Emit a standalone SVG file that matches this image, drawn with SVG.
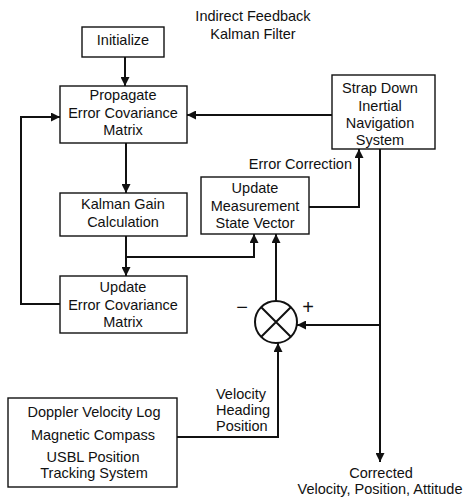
<svg xmlns="http://www.w3.org/2000/svg" width="466" height="497" viewBox="0 0 466 497">
<defs>
<style>
.box{fill:#fff;stroke:#111;stroke-width:1.4}
.t{font-family:"Liberation Sans",Arial,sans-serif;font-size:14.5px;fill:#111;text-anchor:middle}
.l{text-anchor:start}
.r{text-anchor:end}
.s{font-size:20px}
.c{fill:none;stroke:#111;stroke-width:2}
</style>
<marker id="ah" viewBox="0 0 10 10" refX="10" refY="5" markerWidth="5" markerHeight="4.5" orient="auto" markerUnits="strokeWidth">
<path d="M0,0 L10,5 L0,10 z" fill="#111"/>
</marker>
</defs>
<rect width="466" height="497" fill="#fff"/>
<text class="t" x="253" y="21">Indirect Feedback</text>
<text class="t" x="253" y="39">Kalman Filter</text>
<g id="connectors">
<path class="c" d="M125,57 V86" marker-end="url(#ah)"/>
<path class="c" d="M126,143 V193" marker-end="url(#ah)"/>
<path class="c" d="M126,236 V276" marker-end="url(#ah)"/>
<path class="c" d="M126,257 H254 V234" marker-end="url(#ah)"/>
<path class="c" d="M60,304 H21 V117 H60" marker-end="url(#ah)"/>
<path class="c" d="M332,115 H187" marker-end="url(#ah)"/>
<path class="c" d="M309,207 H359 V149" marker-end="url(#ah)"/>
<path class="c" d="M380,149 V462" marker-end="url(#ah)"/>
<path class="c" d="M380,325 H297" marker-end="url(#ah)"/>
<path class="c" d="M276,301 V234" marker-end="url(#ah)"/>
<path class="c" d="M177,437 H278 V343" marker-end="url(#ah)"/>
</g>
<g id="initialize">
<rect class="box" x="82" y="27" width="82" height="30"/>
<text class="t" x="123" y="45">Initialize</text>
</g>
<g id="propagate">
<rect class="box" x="60" y="86" width="127" height="57"/>
<text class="t" x="123" y="100">Propagate</text>
<text class="t" x="123" y="118">Error Covariance</text>
<text class="t" x="123" y="135">Matrix</text>
</g>
<g id="kalman-gain">
<rect class="box" x="60" y="193" width="127" height="43"/>
<text class="t" x="123" y="209">Kalman Gain</text>
<text class="t" x="123" y="227">Calculation</text>
</g>
<g id="update-cov">
<rect class="box" x="60" y="276" width="127" height="57"/>
<text class="t" x="123" y="292">Update</text>
<text class="t" x="123" y="310">Error Covariance</text>
<text class="t" x="123" y="327">Matrix</text>
</g>
<g id="update-meas">
<rect class="box" x="201" y="177" width="108" height="57"/>
<text class="t" x="255" y="193">Update</text>
<text class="t" x="255" y="211">Measurement</text>
<text class="t" x="255" y="228">State Vector</text>
</g>
<g id="sdins">
<rect class="box" x="332" y="75" width="103" height="74"/>
<text class="t" x="380" y="93">Strap Down</text>
<text class="t" x="380" y="111">Inertial</text>
<text class="t" x="380" y="128">Navigation</text>
<text class="t" x="380" y="145">System</text>
</g>
<g id="sum">
<circle cx="276" cy="322" r="21" fill="#fff" stroke="#111" stroke-width="2"/>
<path d="M261,307 L291,337 M291,307 L261,337" stroke="#111" stroke-width="2"/>
<text class="t s" x="242" y="314">−</text>
<text class="t s" x="308" y="314">+</text>
</g>
<g id="sensors">
<rect class="box" x="8" y="398" width="169" height="89"/>
<text class="t" x="94" y="417">Doppler Velocity Log</text>
<text class="t" x="93" y="440">Magnetic Compass</text>
<text class="t" x="93" y="462">USBL Position</text>
<text class="t" x="94" y="478">Tracking System</text>
</g>
<text class="t r" x="352" y="169">Error Correction</text>
<text class="t l" x="216" y="399">Velocity</text>
<text class="t l" x="216" y="415">Heading</text>
<text class="t l" x="216" y="431">Position</text>
<text class="t" x="381" y="478">Corrected</text>
<text class="t" x="380" y="494">Velocity, Position, Attitude</text>
</svg>
